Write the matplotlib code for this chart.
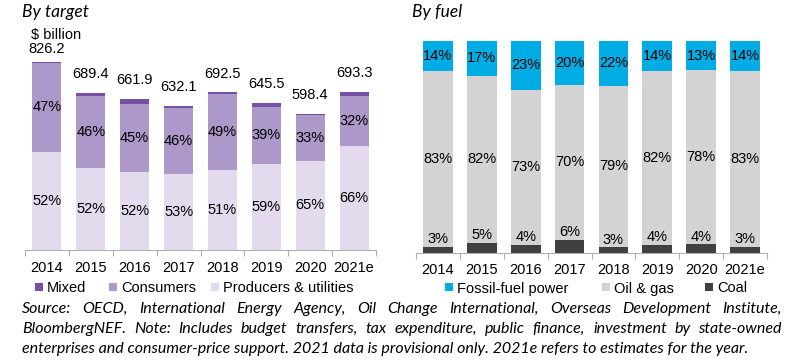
import matplotlib
matplotlib.use('Agg')
import matplotlib.pyplot as plt
from matplotlib.patches import Rectangle

# ---------------- data ----------------
years = ['2014', '2015', '2016', '2017', '2018', '2019', '2020', '2021e']
totals = [826.2, 689.4, 661.9, 632.1, 692.5, 645.5, 598.4, 693.3]
producers_pct = [52, 52, 52, 53, 51, 59, 65, 66]
consumers_pct = [47, 46, 45, 46, 49, 39, 33, 32]
mixed_pct = [0.5, 2, 3, 1, 0.7, 2.5, 1.2, 2.5]

fossil_pct = [14, 17, 23, 20, 22, 14, 13, 14]
oilgas_pct = [83, 82, 73, 70, 79, 82, 78, 83]
coal_pct = [3, 5, 4, 6, 3, 4, 4, 3]

target_labels = ['Mixed', 'Consumers', 'Producers & utilities']
fuel_labels = ['Fossil-fuel power', 'Oil & gas', 'Coal']

# ---------------- style ----------------
ARIAL = 'Liberation Sans'
ITAL = 'Lato'
C_MIX, C_CON, C_PRO = '#7451a3', '#ac98c9', '#e3dbed'
C_FOS, C_OIL, C_COAL = '#00ace4', '#d3d3d3', '#404040'
FS = 10.5
W, H = 797, 364

fig = plt.figure(figsize=(W / 100, H / 100), dpi=100)


def px_axes(x0, y_top, w, h):
    return fig.add_axes([x0 / W, 1 - (y_top + h) / H, w / W, h / H])


def style_axes(ax, pad):
    x = list(range(len(years)))
    ax.set_xlim(-0.5, len(years) - 0.5)
    ax.set_xticks([i - 0.5 for i in range(len(years) + 1)])
    ax.set_xticklabels([])
    ax.set_xticks(x, minor=True)
    ax.set_xticklabels(years, minor=True, fontsize=FS, family=ARIAL)
    ax.tick_params(axis='x', which='major', length=4.3, color='#b0b0b0', width=0.8)
    ax.tick_params(axis='x', which='minor', length=0, pad=pad)
    ax.set_yticks([])
    for s in ['top', 'right', 'left']:
        ax.spines[s].set_visible(False)
    ax.spines['bottom'].set_color('#b0b0b0')
    ax.spines['bottom'].set_linewidth(0.8)


# ---------------- left: by target ----------------
ax1 = px_axes(25, 39.5, 351, 210.5)
ymax1 = 925
ax1.set_ylim(0, ymax1)
x = list(range(len(years)))
pro_h, con_h, mix_h = [], [], []
for t, p, c, m in zip(totals, producers_pct, consumers_pct, mixed_pct):
    s = p + c + m
    pro_h.append(t * p / s)
    con_h.append(t * c / s)
    mix_h.append(t * m / s)
bw = 0.66
ax1.bar(x, pro_h, bw, color=C_PRO)
ax1.bar(x, con_h, bw, bottom=pro_h, color=C_CON)
ax1.bar(x, mix_h, bw, bottom=[a + b for a, b in zip(pro_h, con_h)], color=C_MIX)
for i in x:
    ax1.text(i, pro_h[i] / 2, f'{producers_pct[i]}%', ha='center', va='center', fontsize=FS, family=ARIAL)
    ax1.text(i, pro_h[i] + con_h[i] / 2, f'{consumers_pct[i]}%', ha='center', va='center', fontsize=FS, family=ARIAL)
    ly = min(totals[i] + 83, ymax1 - 42)
    ax1.text(i, ly, f'{totals[i]:.1f}', ha='center', va='center', fontsize=FS, family=ARIAL)
style_axes(ax1, 8)

# ---------------- right: by fuel ----------------
ax2 = px_axes(416, 41, 351, 212)
ax2.set_ylim(0, 100)
coal_h, oil_h, fos_h = [], [], []
for f, o, c in zip(fossil_pct, oilgas_pct, coal_pct):
    s = f + o + c
    coal_h.append(100 * c / s)
    oil_h.append(100 * o / s)
    fos_h.append(100 * f / s)
bw2 = 0.68
ax2.bar(x, coal_h, bw2, color=C_COAL)
ax2.bar(x, oil_h, bw2, bottom=coal_h, color=C_OIL)
ax2.bar(x, fos_h, bw2, bottom=[a + b for a, b in zip(coal_h, oil_h)], color=C_FOS)
for i in x:
    ax2.annotate(f'{coal_pct[i]}%', (i, coal_h[i]), xytext=(0, 5.3), textcoords='offset points',
                 ha='center', va='center', fontsize=FS, family=ARIAL)
    ax2.text(i, coal_h[i] + oil_h[i] / 2, f'{oilgas_pct[i]}%', ha='center', va='center', fontsize=FS, family=ARIAL)
    ax2.text(i, coal_h[i] + oil_h[i] + fos_h[i] / 2, f'{fossil_pct[i]}%', ha='center', va='center',
             fontsize=FS, family=ARIAL)
style_axes(ax2, 7)

# ---------------- legends (manual, Excel-like) ----------------
def legend(labels, colors, xs):
    yc = 287
    for lab, col, x0 in zip(labels, colors, xs):
        fig.patches.append(Rectangle((x0 / W, 1 - (yc + 4) / H), 8 / W, 8 / H,
                                     transform=fig.transFigure, facecolor=col, edgecolor='none'))
        fig.text((x0 + 12) / W, 1 - yc / H, lab, family=ARIAL, fontsize=FS, va='center_baseline')

legend(target_labels, [C_MIX, C_CON, C_PRO], [35, 109, 211])
legend(fuel_labels, [C_FOS, C_OIL, C_COAL], [445, 602, 705])

# ---------------- titles ----------------
fig.text(22 / W, 1 - 17.5 / H, 'By target', family=ITAL, style='italic', fontsize=12.5, va='baseline')
fig.text(412 / W, 1 - 17.5 / H, 'By fuel', family=ITAL, style='italic', fontsize=12.5, va='baseline')
fig.text(31 / W, 1 - 39 / H, '$ billion', family=ARIAL, fontsize=FS, va='baseline')

# ---------------- footer (justified) ----------------
lines = [
    'Source: OECD, International Energy Agency, Oil Change International, Overseas Development Institute,',
    'BloombergNEF. Note: Includes budget transfers, tax expenditure, public finance, investment by state-owned',
    'enterprises and consumer-price support. 2021 data is provisional only. 2021e refers to estimates for the year.',
]
baselines = [313, 333, 353]
x_left, x_right = 22, 782
renderer = fig.canvas.get_renderer()

probe = fig.text(0, 0, lines[2], family=ITAL, style='italic', fontsize=10)
w_last = probe.get_window_extent(renderer).width
probe.remove()
ffs = 10 * (752 - x_left) / w_last

for li, (line, yb) in enumerate(zip(lines, baselines)):
    if li == len(lines) - 1:
        fig.text(x_left / W, 1 - yb / H, line, family=ITAL, style='italic', fontsize=ffs, va='baseline')
        continue
    words = line.split(' ')
    widths = []
    for wd in words:
        t = fig.text(0, 0, wd, family=ITAL, style='italic', fontsize=ffs)
        widths.append(t.get_window_extent(renderer).width)
        t.remove()
    gap = (x_right - x_left - sum(widths)) / (len(words) - 1)
    cx = x_left
    for wd, ww in zip(words, widths):
        fig.text(cx / W, 1 - yb / H, wd, family=ITAL, style='italic', fontsize=ffs, va='baseline')
        cx += ww + gap

fig.savefig('out.png', dpi=100)
